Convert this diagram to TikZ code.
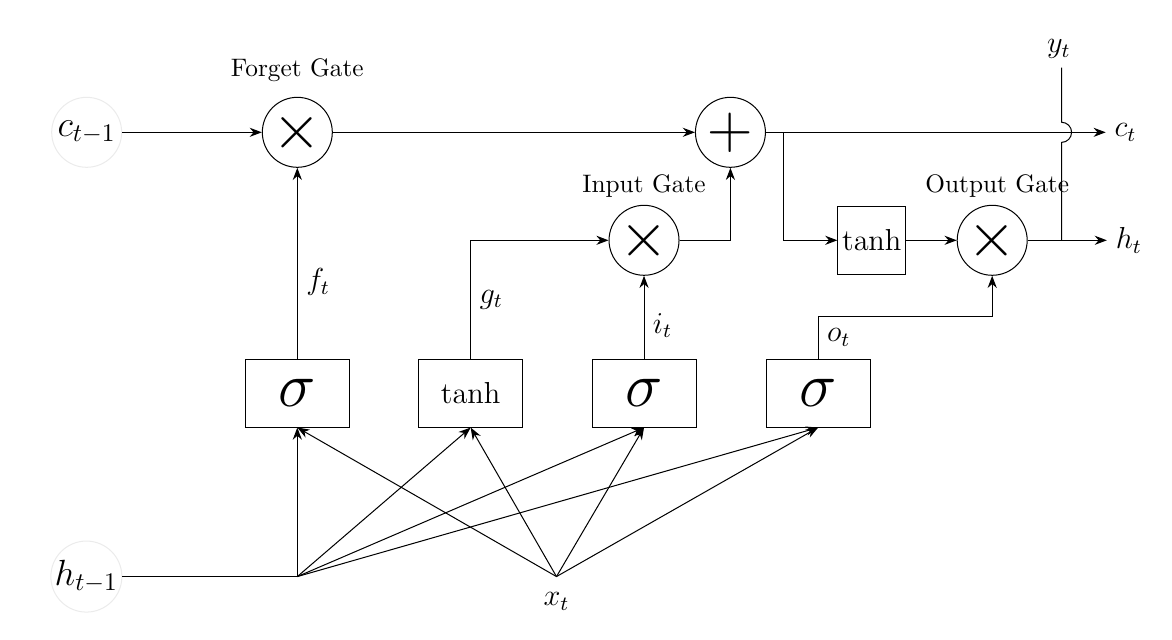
\documentclass[tikz,border=0pt]{standalone}
\usetikzlibrary{arrows.meta, positioning, calc}

\begin{document}
\begin{tikzpicture}[
    node distance=1cm,
    gate/.style={circle, draw, minimum size=0.972cm, inner sep=0pt, font=\Huge},
    ghost/.style={circle, draw=black!8, minimum size=0.972cm, inner sep=0pt, font=\Large},
    actbox/.style={rectangle, draw, minimum width=1.444cm, minimum height=0.944cm, inner sep=0pt},
    sigbox/.style={actbox, font=\Huge},
    tanhbox/.style={actbox, font=\large},
    tanhsq/.style={rectangle, draw, minimum width=0.944cm, minimum height=0.944cm, inner sep=1pt, font=\large},
    lbl/.style={font=\large},
    gatename/.style={inner sep=0pt, font=\normalsize}
]

\useasboundingbox (0,0) rectangle (16.28,-8.89);

% Activation boxes
\node[sigbox] (sig1) at (4.13,-5.46) {$\sigma$};
\node[tanhbox, right=0.95cm of sig1] (tanhb) {$\tanh$};
\node[sigbox, right=0.95cm of tanhb] (sig3) {$\sigma$};
\node[sigbox, right=0.96cm of sig3] (sig4) {$\sigma$};

% Cell state row
\node[gate, above=2.65cm of sig1] (forget) {$\times$};
\node[ghost, left=1.94cm of forget] (cprev) {$c_{t-1}$};
\node[gate, right=5.03cm of forget] (plus) {$+$};
\node[lbl, right=4.72cm of plus] (ct) {$c_t$};

% Gate row
\node[gate, above=1.15cm of sig3] (input) {$\times$};
\node[gate, right=3.85cm of input] (output) {$\times$};
\node[tanhsq, left=0.7cm of output] (tanhc) {$\tanh$};
\node[lbl, right=1.1cm of output] (ht) {$h_t$};
\coordinate[right=0.47cm of output] (yjoin);
\node[lbl, anchor=south] (yt) at (14.71,-0.94) {$y_t$};

% Inputs
\coordinate[below=2.07cm of sig1] (hjoin);
\node[ghost, left=2.43cm of hjoin] (hprev) {$h_{t-1}$};
\coordinate[right=3.6cm of hjoin] (xjoin);
\node[lbl, below=0.1cm of xjoin] (xt) {$x_t$};

% Gate names
\node[gatename, above=0.2cm of forget] (nforget) {Forget Gate};
\node[gatename, above=0.09cm of input] (ninput) {Input Gate};
\node[gatename, above=0.09cm of output, xshift=0.07cm] (noutput) {Output Gate};

% Cell state
\draw[-{Stealth}] (cprev) -- (forget);
\draw[-{Stealth}] (forget) -- (plus);
\draw[-{Stealth}] (plus) -- (ct);
\draw[-{Stealth}] (input) -| (plus);
\draw[-{Stealth}] (plus.east) -- ++(0.25,0) |- (tanhc.west);
\draw[-{Stealth}] (tanhc) -- (output);
\draw[-{Stealth}] (output) -- (ht);
\draw (yjoin) -- ($(yjoin |- plus)+(0,-0.14)$) arc[start angle=-90, end angle=90, radius=0.14] -- (yjoin |- yt.south);

% Gate signals
\draw[-{Stealth}] (sig1) -- (forget) node[lbl, pos=0.4, right] (ft) {$f_t$};
\draw[-{Stealth}] (tanhb) |- (input) node[lbl, pos=0.25, right] (gt) {$g_t$};
\draw[-{Stealth}] (sig3) -- (input) node[lbl, pos=0.4, right] (it) {$i_t$};
\draw[-{Stealth}] (sig4.north) -- ++(0,0.58) node[lbl, midway, right] (ot) {$o_t$} -| (output);

% Inputs to boxes
\draw (hprev) -- (hjoin);
\draw[-{Stealth}] (hjoin) -- (sig1.south);
\draw[-{Stealth}] (hjoin) -- (tanhb.south);
\draw[-{Stealth}] (hjoin) -- (sig3.south);
\draw[-{Stealth}] (hjoin) -- (sig4.south);
\draw[-{Stealth}] (xjoin) -- (sig1.south);
\draw[-{Stealth}] (xjoin) -- (tanhb.south);
\draw[-{Stealth}] (xjoin) -- (sig3.south);
\draw[-{Stealth}] (xjoin) -- (sig4.south);

\end{tikzpicture}
\end{document}
